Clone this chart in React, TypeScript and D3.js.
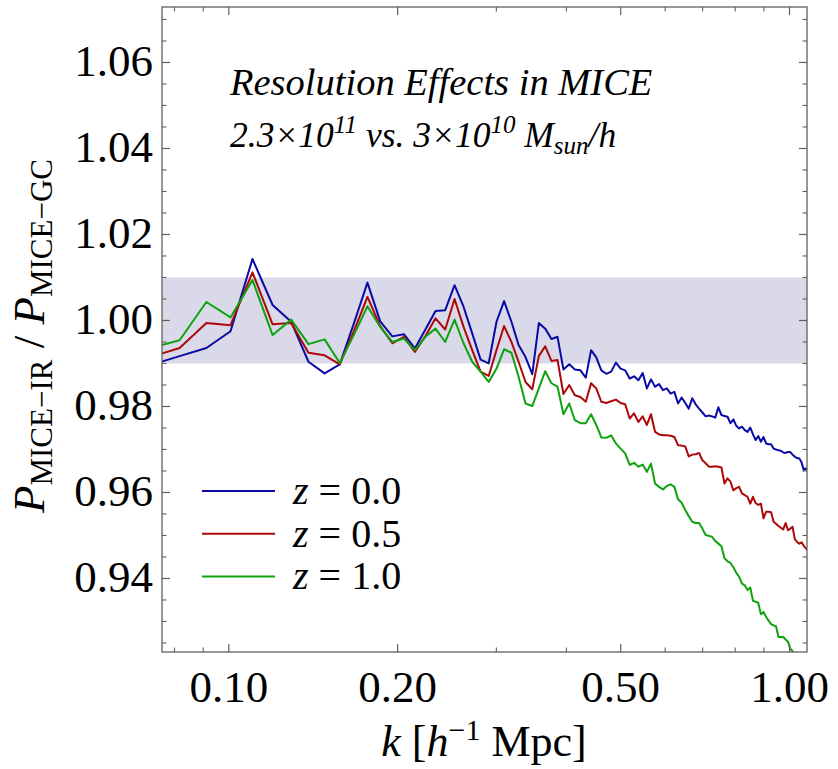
import React from 'react';
import * as d3 from 'd3';

// k grid [h/Mpc]
const kValues = [
  0.0722, 0.0817, 0.0912, 0.1007, 0.1102, 0.1197, 0.1292, 0.1387, 0.1482, 0.1577,
  0.1672, 0.1767, 0.1862, 0.1957, 0.2052, 0.2147, 0.2242, 0.2337, 0.2432, 0.2527,
  0.2622, 0.2717, 0.2812, 0.2907, 0.3002, 0.3097, 0.3192, 0.3287, 0.3382, 0.3477,
  0.3572, 0.3667, 0.3762, 0.3857, 0.3952, 0.4047, 0.4142, 0.4237, 0.4332, 0.4427,
  0.4522, 0.4617, 0.4712, 0.4807, 0.4902, 0.4997, 0.5092, 0.5187, 0.5282, 0.5377,
  0.5472, 0.5567, 0.5662, 0.5757, 0.5852, 0.5947, 0.6042, 0.6137, 0.6232, 0.6327,
  0.6422, 0.6517, 0.6612, 0.6707, 0.6802, 0.6897, 0.6992, 0.7087, 0.7182, 0.7277,
  0.7372, 0.7467, 0.7562, 0.7657, 0.7752, 0.7847, 0.7942, 0.8037, 0.8132, 0.8227,
  0.8322, 0.8417, 0.8512, 0.8607, 0.8702, 0.8797, 0.8892, 0.8987, 0.9082, 0.9177,
  0.9272, 0.9367, 0.9462, 0.9557, 0.9652, 0.9747, 0.9842, 0.9937, 1.0032, 1.0127,
  1.0222, 1.0317, 1.0412, 1.0507, 1.0602, 1.0697, 1.0792,
];

const ratioZ00 = [
  0.9896, 0.9917, 0.9936, 0.9975, 1.0143, 1.0036, 0.9997, 0.9904, 0.9877, 0.9898,
  0.9994, 1.0088, 0.9998, 0.9963, 0.9968, 0.9935, 0.9979, 1.0022, 1.0024, 1.0082,
  1.0032, 0.9970, 0.9909, 0.9900, 0.9997, 1.0045, 0.9997, 0.9943, 0.9915, 0.9875,
  0.9994, 0.9981, 0.9957, 0.9962, 0.9886, 0.9898, 0.9886, 0.9884, 0.9867, 0.9931,
  0.9914, 0.9884, 0.9876, 0.9881, 0.9902, 0.9888, 0.9884, 0.9865, 0.9870, 0.9861,
  0.9878, 0.9842, 0.9863, 0.9846, 0.9852, 0.9838, 0.9842, 0.9830, 0.9834, 0.9807,
  0.9821, 0.9808, 0.9795, 0.9819, 0.9805, 0.9795, 0.9786, 0.9777, 0.9779, 0.9777,
  0.9774, 0.9798, 0.9780, 0.9778, 0.9776, 0.9761, 0.9770, 0.9755, 0.9749, 0.9753,
  0.9745, 0.9741, 0.9751, 0.9735, 0.9722, 0.9731, 0.9718, 0.9729, 0.9714, 0.9712,
  0.9712, 0.9702, 0.9700, 0.9698, 0.9697, 0.9693, 0.9692, 0.9694, 0.9694, 0.9688,
  0.9683, 0.9680, 0.9679, 0.9670, 0.9652, 0.9656, 0.9650,
];

const ratioZ05 = [
  0.9914, 0.9936, 0.9994, 0.9989, 1.0112, 0.9991, 0.9994, 0.9925, 0.9919, 0.9898,
  0.9976, 1.0055, 0.9987, 0.9947, 0.9962, 0.9927, 0.9964, 1.0005, 0.9979, 1.0050,
  0.9985, 0.9931, 0.9881, 0.9871, 0.9931, 0.9987, 0.9950, 0.9904, 0.9857, 0.9840,
  0.9917, 0.9940, 0.9906, 0.9908, 0.9829, 0.9850, 0.9826, 0.9822, 0.9811, 0.9854,
  0.9842, 0.9811, 0.9808, 0.9812, 0.9816, 0.9808, 0.9805, 0.9772, 0.9784, 0.9764,
  0.9777, 0.9757, 0.9782, 0.9741, 0.9735, 0.9733, 0.9733, 0.9732, 0.9729, 0.9710,
  0.9709, 0.9707, 0.9684, 0.9688, 0.9689, 0.9692, 0.9675, 0.9668, 0.9660, 0.9660,
  0.9661, 0.9660, 0.9658, 0.9621, 0.9633, 0.9625, 0.9605, 0.9610, 0.9613, 0.9598,
  0.9594, 0.9590, 0.9574, 0.9590, 0.9575, 0.9571, 0.9574, 0.9540, 0.9555, 0.9555,
  0.9554, 0.9532, 0.9527, 0.9522, 0.9518, 0.9514, 0.9529, 0.9512, 0.9516, 0.9520,
  0.9491, 0.9485, 0.9481, 0.9484, 0.9476, 0.9470, 0.9465,
];

const ratioZ10 = [
  0.9935, 0.9954, 1.0043, 1.0007, 1.0094, 0.9966, 1.0002, 0.9945, 0.9956, 0.9901,
  0.9967, 1.0033, 0.9985, 0.9950, 0.9958, 0.9931, 0.9962, 0.9981, 0.9950, 1.0002,
  0.9947, 0.9904, 0.9881, 0.9857, 0.9888, 0.9933, 0.9925, 0.9869, 0.9807, 0.9801,
  0.9842, 0.9882, 0.9854, 0.9846, 0.9782, 0.9807, 0.9768, 0.9761, 0.9761, 0.9782,
  0.9757, 0.9728, 0.9727, 0.9733, 0.9714, 0.9702, 0.9691, 0.9664, 0.9669, 0.9660,
  0.9665, 0.9648, 0.9667, 0.9621, 0.9613, 0.9607, 0.9615, 0.9619, 0.9613, 0.9584,
  0.9576, 0.9559, 0.9545, 0.9532, 0.9529, 0.9529, 0.9516, 0.9501, 0.9499, 0.9497,
  0.9487, 0.9481, 0.9475, 0.9447, 0.9440, 0.9436, 0.9426, 0.9413, 0.9404, 0.9388,
  0.9384, 0.9373, 0.9379, 0.9348, 0.9346, 0.9343, 0.9317, 0.9322, 0.9311, 0.9302,
  0.9294, 0.9291, 0.9289, 0.9264, 0.9264, 0.9264, 0.9258, 0.9253, 0.9237, 0.9231,
  0.9220,
];

const seriesNames = ['0.0', '0.5', '1.0'];
const yTicks = [0.94, 0.96, 0.98, 1.0, 1.02, 1.04, 1.06];
const xTicks = [0.1, 0.2, 0.5, 1.0];
const xMinorTicks = [0.08, 0.09, 0.3, 0.4, 0.6, 0.7, 0.8, 0.9];
const band = [0.99, 1.01];

const FONT = "'Liberation Serif', 'Times New Roman', Times, serif";

export default function App() {
  const W = 838, H = 769;
  const left = 162, right = 807, top = 7, bottom = 652;
  const x = d3.scaleLog().domain([0.076, 1.0745]).range([left, right]);
  const y = d3.scaleLinear().domain([0.9229, 1.0729]).range([bottom, top]);
  const line = d3.line<[number, number]>().x((d) => x(d[0])).y((d) => y(d[1]));

  const series = [
    { name: seriesNames[0], values: ratioZ00, color: '#0a0aa6' },
    { name: seriesNames[1], values: ratioZ05, color: '#ad0808' },
    { name: seriesNames[2], values: ratioZ10, color: '#0ea30e' },
  ];

  const yMinor = d3.range(0.925, 1.0726, 0.005).filter(
    (v) => !yTicks.some((t) => Math.abs(t - v) < 1e-6)
  );

  const axisColor = '#606060';
  const majorLen = 8, minorLen = 4.5;

  return (
    <svg width={W} height={H} style={{ position: 'absolute', left: 0, top: 0, background: '#fff' }}
      fontFamily={FONT}>
      <defs>
        <clipPath id="plotClip">
          <rect x={left} y={top} width={right - left} height={bottom - top} />
        </clipPath>
      </defs>
      <rect x={0} y={0} width={W} height={H} fill="#fff" />
      {/* band */}
      <rect x={left} y={y(band[1])} width={right - left} height={y(band[0]) - y(band[1])} fill="#d9d9e9" />
      {/* curves */}
      <g clipPath="url(#plotClip)">
        {series.map((s) => (
          <path key={s.name}
            d={line(s.values.map((v, i) => [kValues[i], v] as [number, number])) || ''}
            fill="none" stroke={s.color} strokeWidth={2} strokeLinejoin="round" />
        ))}
      </g>
      {/* frame */}
      <rect x={left} y={top} width={right - left} height={bottom - top} fill="none" stroke={axisColor} strokeWidth={1.3} />
      {/* y ticks */}
      {yTicks.map((t) => (
        <g key={'yt' + t}>
          <line x1={left} x2={left + majorLen} y1={y(t)} y2={y(t)} stroke={axisColor} strokeWidth={1.2} />
          <line x1={right} x2={right - majorLen} y1={y(t)} y2={y(t)} stroke={axisColor} strokeWidth={1.2} />
          <text x={left - 9} y={y(t) + 14} textAnchor="end" fontSize={45} fill="#000">{t.toFixed(2)}</text>
        </g>
      ))}
      {yMinor.map((t) => (
        <g key={'ym' + t}>
          <line x1={left} x2={left + minorLen} y1={y(t)} y2={y(t)} stroke={axisColor} strokeWidth={1.1} />
          <line x1={right} x2={right - minorLen} y1={y(t)} y2={y(t)} stroke={axisColor} strokeWidth={1.1} />
        </g>
      ))}
      {/* x ticks */}
      {xTicks.map((t) => (
        <g key={'xt' + t}>
          <line x1={x(t)} x2={x(t)} y1={bottom} y2={bottom - majorLen} stroke={axisColor} strokeWidth={1.2} />
          <line x1={x(t)} x2={x(t)} y1={top} y2={top + majorLen} stroke={axisColor} strokeWidth={1.2} />
          <text x={x(t)} y={702} textAnchor="middle" fontSize={45} fill="#000">{t.toFixed(2)}</text>
        </g>
      ))}
      {xMinorTicks.map((t) => (
        <g key={'xm' + t}>
          <line x1={x(t)} x2={x(t)} y1={bottom} y2={bottom - minorLen} stroke={axisColor} strokeWidth={1.1} />
          <line x1={x(t)} x2={x(t)} y1={top} y2={top + minorLen} stroke={axisColor} strokeWidth={1.1} />
        </g>
      ))}
      {/* title */}
      <text x={230} y={95} fontStyle="italic" fontSize={38.5} fill="#000">Resolution Effects in MICE</text>
      <text x={230} y={147} fontStyle="italic" fontSize={35.5} fill="#000">
        2.3×10<tspan dy={-14} fontSize={25}>11</tspan>
        <tspan dy={14}> vs. 3×10</tspan>
        <tspan dy={-14} fontSize={25}>10</tspan>
        <tspan dy={14}> M</tspan>
        <tspan dy={7} fontSize={25}>sun</tspan>
        <tspan dy={-7}>/h</tspan>
      </text>
      {/* legend */}
      {series.map((s, i) => {
        const ly = 491 + i * 42.7;
        return (
          <g key={'lg' + s.name}>
            <line x1={202} x2={275} y1={ly} y2={ly} stroke={s.color} strokeWidth={2} />
            <text x={293} y={ly + 13} fontSize={40} fill="#000">
              <tspan fontStyle="italic">z</tspan> = {s.name}
            </text>
          </g>
        );
      })}
      {/* y label */}
      <text transform="translate(44,336) rotate(-90)" textAnchor="middle" fontSize={45} fill="#000">
        <tspan fontStyle="italic">P</tspan>
        <tspan fontSize={31} dy={8}>MICE−IR</tspan>
        <tspan dy={-8}> / </tspan>
        <tspan fontStyle="italic">P</tspan>
        <tspan fontSize={31} dy={8}>MICE−GC</tspan>
      </text>
      {/* x label */}
      <text x={484} y={756} textAnchor="middle" fontSize={44} fill="#000">
        <tspan fontStyle="italic">k</tspan> [<tspan fontStyle="italic">h</tspan>
        <tspan dy={-16} fontSize={30}>−1</tspan>
        <tspan dy={16}> Mpc]</tspan>
      </text>
    </svg>
  );
}
